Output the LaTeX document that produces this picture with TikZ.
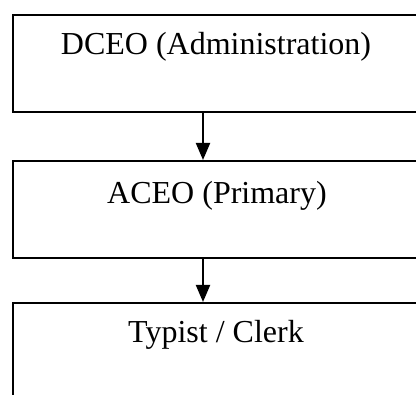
\documentclass[tikz,border=0pt]{standalone}
\usepackage{fontspec}
\setmainfont{Liberation Serif}
\usetikzlibrary{arrows.meta}
\begin{document}
\begin{tikzpicture}[x=1pt,y=1pt,
  box/.style={draw,line width=1.7pt,minimum width=408pt,minimum height=97pt,
    inner sep=0pt,anchor=north west},
  caption/.style={anchor=base,font=\fontsize{32}{38}\selectfont,inner sep=0pt},
  link/.style={line width=2pt,-{Triangle[length=17pt,width=14pt]}}]
  \useasboundingbox (0,0) rectangle (416,-395);
  \clip (0,0) rectangle (416,-395);
  % three stacked boxes, the last runs past the page edge
  \node[box] (dceo) at (12,-14) {};
  \node[box] (aceo) at (12,-160) {};
  \node[box] (clerk) at (12,-302) {};
  % box titles
  \node[caption] (tdceo) at (216,-55) {DCEO (Administration)};
  \node[caption] (taceo) at (217,-204) {ACEO (Primary)};
  \node[caption] (tclerk) at (216,-343) {Typist / Clerk};
  % connectors
  \coordinate (axis) at (203,0);
  \draw[link] (dceo.south -| axis) -- (aceo.north -| axis);
  \draw[link] (aceo.south -| axis) -- (clerk.north -| axis);
\end{tikzpicture}
\end{document}
